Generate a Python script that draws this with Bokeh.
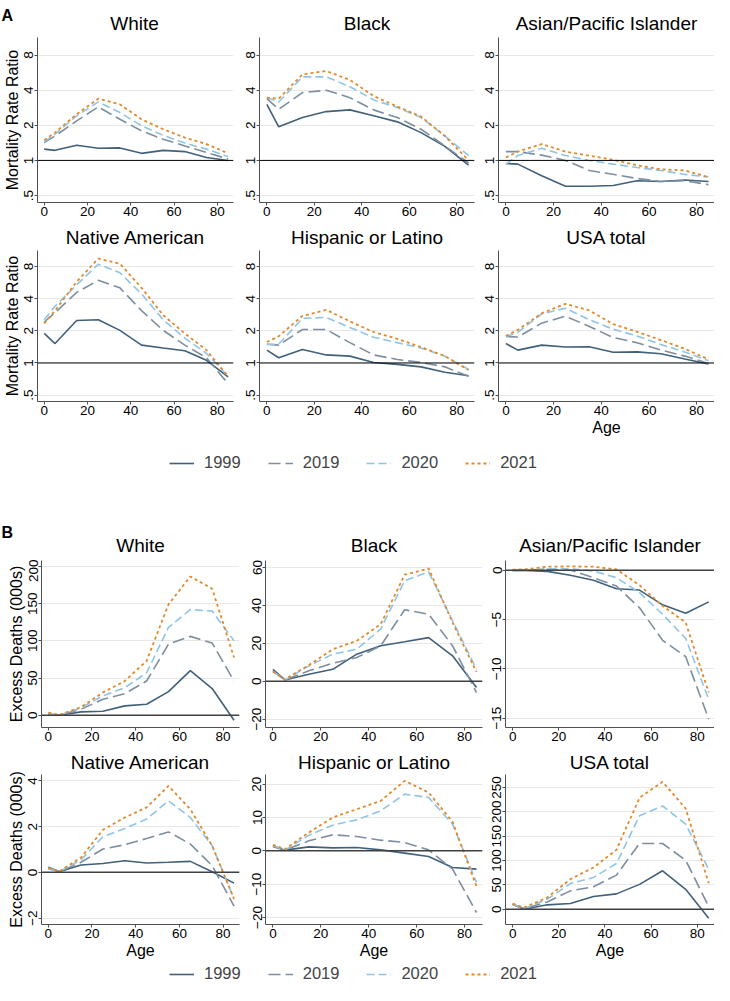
from bokeh.plotting import figure
from bokeh.layouts import column, row
from bokeh.models import (FixedTicker, CustomJSTickFormatter, Range1d, Span,
                          Legend, LegendItem)
from bokeh.embed import file_html
from bokeh.resources import INLINE
from bokeh.core.properties import value

FONT = "Liberation Sans"

ages = [0, 5, 15, 25, 35, 45, 55, 65, 75, 85]
years = ["1999", "2019", "2020", "2021"]
x_ticks = [0, 20, 40, 60, 80]

titles_row1 = ["White", "Black", "Asian/Pacific Islander"]
titles_row2 = ["Native American", "Hispanic or Latino", "USA total"]

# ---------------- Panel A: Mortality Rate Ratio ----------------
a_white_1999 = [1.25, 1.22, 1.35, 1.27, 1.28, 1.15, 1.22, 1.19, 1.06, 1.00]
a_white_2019 = [1.42, 1.62, 2.18, 2.87, 2.25, 1.79, 1.52, 1.33, 1.17, 1.03]
a_white_2020 = [1.44, 1.68, 2.41, 3.17, 2.57, 1.98, 1.64, 1.41, 1.25, 1.08]
a_white_2021 = [1.49, 1.73, 2.49, 3.38, 3.02, 2.25, 1.85, 1.57, 1.38, 1.15]

a_black_1999 = [3.02, 1.94, 2.33, 2.62, 2.71, 2.41, 2.14, 1.73, 1.32, 0.91]
a_black_2019 = [3.38, 2.74, 3.81, 3.99, 3.45, 2.71, 2.33, 1.85, 1.33, 0.95]
a_black_2020 = [3.45, 3.17, 5.20, 5.20, 4.28, 3.30, 2.84, 2.33, 1.62, 1.10]
a_black_2021 = [3.45, 3.38, 5.46, 5.84, 4.89, 3.56, 2.89, 2.37, 1.62, 1.00]

a_asian_1999 = [0.94, 0.93, 0.74, 0.60, 0.60, 0.61, 0.67, 0.66, 0.68, 0.66]
a_asian_2019 = [1.19, 1.19, 1.11, 1.00, 0.82, 0.76, 0.70, 0.66, 0.67, 0.62]
a_asian_2020 = [0.93, 1.10, 1.27, 1.10, 1.00, 0.93, 0.87, 0.82, 0.76, 0.72]
a_asian_2021 = [1.06, 1.19, 1.38, 1.19, 1.10, 1.01, 0.91, 0.84, 0.82, 0.72]

a_native_1999 = [1.89, 1.52, 2.50, 2.54, 2.02, 1.47, 1.38, 1.30, 1.06, 0.74]
a_native_2019 = [2.42, 2.95, 4.58, 5.94, 5.05, 3.09, 2.02, 1.47, 1.12, 0.64]
a_native_2020 = [2.54, 3.40, 5.39, 8.40, 7.00, 4.43, 2.54, 1.71, 1.23, 0.75]
a_native_2021 = [2.35, 3.09, 5.76, 9.50, 8.50, 5.05, 2.80, 1.89, 1.32, 0.75]

a_hisp_1999 = [1.32, 1.12, 1.34, 1.19, 1.16, 1.01, 0.97, 0.92, 0.82, 0.76]
a_hisp_2019 = [1.50, 1.47, 2.06, 2.06, 1.55, 1.19, 1.08, 1.01, 0.92, 0.75]
a_hisp_2020 = [1.50, 1.50, 2.62, 2.67, 2.15, 1.74, 1.55, 1.38, 1.16, 0.87]
a_hisp_2021 = [1.57, 1.78, 2.76, 3.15, 2.45, 1.95, 1.68, 1.41, 1.16, 0.86]

a_usa_1999 = [1.52, 1.32, 1.47, 1.41, 1.42, 1.26, 1.27, 1.22, 1.09, 0.98]
a_usa_2019 = [1.77, 1.75, 2.36, 2.74, 2.20, 1.73, 1.55, 1.32, 1.16, 0.99]
a_usa_2020 = [1.77, 1.93, 2.88, 3.26, 2.54, 2.07, 1.79, 1.49, 1.27, 1.05]
a_usa_2021 = [1.79, 2.04, 2.92, 3.58, 3.10, 2.31, 1.96, 1.64, 1.36, 1.08]

a_ticks = [0.5, 1, 2, 4, 8]

# ---------------- Panel B: Excess Deaths (000s) ----------------
b_white_1999 = [1.3, 0, 4.5, 5.4, 12.6, 14.8, 31.8, 60, 35.9, -6.7]
b_white_2019 = [1.3, 0, 8, 21.5, 29, 46, 95.5, 106, 97, 46]
b_white_2020 = [2, 0, 10, 26, 37, 57, 118, 142, 140, 100]
b_white_2021 = [3.6, 0.5, 11, 30.5, 46, 73, 149, 186.5, 170, 77.6]

b_black_1999 = [6.3, 0.7, 3.7, 6.3, 14.3, 18.7, 20.8, 23, 13.4, -3.3]
b_black_2019 = [5.5, 0.7, 5.5, 9.5, 12.5, 18.7, 37.7, 35.4, 18.7, -6]
b_black_2020 = [5.1, 0.7, 8.1, 14.3, 16.9, 27.5, 53, 57.7, 31.9, 6.3]
b_black_2021 = [5.1, 1, 8.5, 16.9, 21.3, 30.1, 56.2, 59.5, 31, 4.9]

b_asian_1999 = [0, 0, -0.1, -0.5, -1.0, -1.86, -2.0, -3.5, -4.36, -3.2]
b_asian_2019 = [0, 0, 0.1, 0.03, -0.74, -1.6, -3.8, -7.1, -8.75, -15.1]
b_asian_2020 = [0, 0, 0.17, 0.17, -0.07, -0.74, -2.26, -4.46, -6.9, -13.1]
b_asian_2021 = [0.07, 0.1, 0.37, 0.4, 0.37, 0.1, -1.5, -3.6, -5.3, -12.4]

b_native_1999 = [0.22, 0.03, 0.32, 0.39, 0.51, 0.41, 0.44, 0.48, 0.03, -0.47]
b_native_2019 = [0.22, 0.03, 0.44, 1.02, 1.21, 1.48, 1.77, 1.24, 0.29, -1.48]
b_native_2020 = [0.15, 0.03, 0.55, 1.56, 1.92, 2.33, 3.13, 2.4, 1.16, -1.16]
b_native_2021 = [0.19, 0.04, 0.65, 1.86, 2.4, 2.84, 3.78, 2.76, 1.16, -1.16]

b_hisp_1999 = [1.3, 0.2, 1.2, 0.9, 1.0, 0.3, -0.7, -1.7, -5.0, -5.5]
b_hisp_2019 = [1.5, 0.2, 3.0, 4.8, 4.3, 3.2, 2.5, 0.3, -5.5, -18.5]
b_hisp_2020 = [1.5, 0.2, 4.7, 7.7, 9.3, 12, 17, 16, 8, -9.5]
b_hisp_2021 = [1.8, 0.5, 5.5, 10, 12.5, 15, 21, 17.5, 8.7, -10.7]

b_usa_1999 = [10, 0, 9, 11.6, 26, 31.5, 51, 79, 41, -18.5]
b_usa_2019 = [10, 1.4, 15, 37.7, 46, 70, 135, 135, 100.7, 5.5]
b_usa_2020 = [10, 1.4, 20.5, 52.7, 65, 94, 192, 212, 174.7, 82]
b_usa_2021 = [11.6, 3.4, 24, 61.6, 85.6, 122, 229, 261.6, 206.8, 53.4]

b_white_ticks = [0, 50, 100, 150, 200]
b_black_ticks = [-20, 0, 20, 40, 60]
b_asian_ticks = [-15, -10, -5, 0]
b_native_ticks = [-2, 0, 2, 4]
b_hisp_ticks = [-20, -10, 0, 10, 20]
b_usa_ticks = [0, 50, 100, 150, 200, 250]

# ---------------- styles ----------------
COLORS = ["#41607a", "#7d8ea0", "#8fc4e6", "#e2892c"]
DASHES = ["solid", "12 5", "8 4", "3 3"]
WIDTHS = [1.6, 1.6, 1.6, 1.8]
TITLE_SIZE = "19px"

FMT_A = "return tick == 0.5 ? '.5' : tick.toFixed(0);"
FMT_B = "return tick < 0 ? '\u2212' + Math.abs(tick) : String(tick);"


def panel(series, w, h, borders, yr, ticks, title=None, log=False, ylabel=None,
          xlabel=None, ref=0.0, ref_color="black", ref_width=1.0, standoff=5):
    bl, br, bt, bb = borders
    p = figure(width=w, height=h, output_backend="svg", toolbar_location=None,
               x_range=Range1d(-3.1, 87.5), y_range=Range1d(*yr),
               y_axis_type="log" if log else "linear",
               min_border_left=bl, min_border_right=br,
               min_border_top=bt, min_border_bottom=bb)
    p.outline_line_color = None
    p.background_fill_color = "white"
    p.border_fill_color = "white"
    if title:
        p.title.text = title
        p.title.align = "center"
        p.title.text_font = FONT
        p.title.text_font_size = TITLE_SIZE
        p.title.text_font_style = "normal"
        p.title.text_color = "black"
        p.title.standoff = standoff
    else:
        p.title.visible = False

    for ax in (p.xaxis[0], p.yaxis[0]):
        ax.axis_line_color = "#505050"
        ax.axis_line_width = 1
        ax.major_tick_line_color = "#505050"
        ax.major_tick_out = 3
        ax.major_tick_in = 0
        ax.minor_tick_line_color = None
        ax.major_label_text_font = FONT
        ax.major_label_text_font_size = "13.5px"
        ax.major_label_text_color = "black"
        ax.major_label_standoff = 1
        ax.axis_label_text_font = FONT
        ax.axis_label_text_font_size = "16px"
        ax.axis_label_text_font_style = "normal"
        ax.axis_label_text_color = "black"
        ax.axis_label_standoff = 1

    p.xaxis.ticker = FixedTicker(ticks=x_ticks)
    p.yaxis.ticker = FixedTicker(ticks=ticks)
    p.yaxis.formatter = CustomJSTickFormatter(code=FMT_A if log else FMT_B)
    p.yaxis.major_label_orientation = "vertical"
    if xlabel:
        p.xaxis.axis_label = xlabel
    if ylabel:
        p.yaxis.axis_label = ylabel
    p.xgrid.visible = False
    p.ygrid.grid_line_color = "#e8e8e8"
    p.ygrid.grid_line_width = 1

    p.add_layout(Span(location=ref, dimension="width", line_color=ref_color,
                      line_width=ref_width))
    for vals, c, d, lw in zip(series, COLORS, DASHES, WIDTHS):
        p.line(ages, vals, line_color=c, line_dash=d, line_width=lw)
    return p


def strip(w, h):
    p = figure(width=w, height=h, output_backend="svg", toolbar_location=None,
               x_range=Range1d(0, w), y_range=Range1d(0, h), min_border=0)
    p.title.visible = False
    p.axis.visible = False
    p.grid.visible = False
    p.outline_line_color = None
    return p


def add_letter(p, letter, y):
    p.text(x=[1], y=[y], text=[letter], text_font=value(FONT),
           text_font_size="16px", text_font_style="bold",
           text_baseline="alphabetic", text_align="left", text_color="black")


def add_titles(p, centers, y):
    p.text(x=centers, y=[y] * len(centers), text=titles_row1, text_font=value(FONT),
           text_font_size=TITLE_SIZE, text_baseline="middle",
           text_align="center", text_color="black")


def add_legend(p, loc):
    items = []
    for lab, c, d, lw in zip(years, COLORS, DASHES, WIDTHS):
        # legend-only renderers: their points lie outside the visible range
        r = p.line([-50, -40], [-50, -40], line_color=c, line_dash=d, line_width=lw)
        items.append(LegendItem(label=lab, renderers=[r]))
    lg = Legend(items=items, orientation="horizontal", location=loc,
                glyph_width=25, glyph_height=18, label_height=18,
                label_standoff=10, spacing=27, padding=0, margin=0,
                border_line_color=None, background_fill_alpha=0,
                label_text_font=FONT, label_text_font_size="16.5px")
    p.add_layout(lg)


# column geometry (px): figure widths and left/right borders
W_A = [237, 242, 235]
B_A = [(35, 4), (22, 5), (19, 0)]
W_B = [242, 245, 227]
B_B = [(41, 3), (23, 5), (18, 0)]


def frame_centers(widths, borders):
    out, x0 = [], 0
    for w, (bl, br) in zip(widths, borders):
        out.append(x0 + bl + (w - bl - br) / 2)
        x0 += w
    return out


YLAB_A = "Mortality Rate Ratio"
YLAB_B = "Excess Deaths (000s)"
yr_a = (0.436, 11.3)

# header strip: "A" and first-row titles of panel A
sA = strip(714, 36)
add_letter(sA, "A", 21)
add_titles(sA, frame_centers(W_A, B_A), 13.5)

r1a = row(
    panel([a_white_1999, a_white_2019, a_white_2020, a_white_2021],
          W_A[0], 185, (*B_A[0], 1, 19), yr_a, a_ticks, log=True, ylabel=YLAB_A, ref=1),
    panel([a_black_1999, a_black_2019, a_black_2020, a_black_2021],
          W_A[1], 185, (*B_A[1], 1, 19), yr_a, a_ticks, log=True, ref=1),
    panel([a_asian_1999, a_asian_2019, a_asian_2020, a_asian_2021],
          W_A[2], 185, (*B_A[2], 1, 19), yr_a, a_ticks, log=True, ref=1),
)
r2a = row(
    panel([a_native_1999, a_native_2019, a_native_2020, a_native_2021],
          W_A[0], 218, (*B_A[0], 29, 23), yr_a, a_ticks, title=titles_row2[0],
          log=True, ylabel=YLAB_A, ref=1, standoff=6),
    panel([a_hisp_1999, a_hisp_2019, a_hisp_2020, a_hisp_2021],
          W_A[1], 218, (*B_A[1], 29, 23), yr_a, a_ticks, title=titles_row2[1],
          log=True, ref=1, standoff=6),
    panel([a_usa_1999, a_usa_2019, a_usa_2020, a_usa_2021],
          W_A[2], 218, (*B_A[2], 29, 38), yr_a, a_ticks, title=titles_row2[2],
          log=True, xlabel="Age", ref=1, standoff=6),
)

# middle strip: legend of panel A, "B" and first-row titles of panel B
mid = strip(714, 120)
add_legend(mid, (169, 87))
add_letter(mid, "B", 27)
add_titles(mid, frame_centers(W_B, B_B), 14)

ZC = "#404040"
r1b = row(
    panel([b_white_1999, b_white_2019, b_white_2020, b_white_2021],
          W_B[0], 188, (*B_B[0], 1, 20), (-16.5, 208), b_white_ticks, ylabel=YLAB_B,
          ref_color=ZC, ref_width=1.5),
    panel([b_black_1999, b_black_2019, b_black_2020, b_black_2021],
          W_B[1], 188, (*B_B[1], 1, 20), (-24.4, 63.7), b_black_ticks,
          ref_color=ZC, ref_width=1.5),
    panel([b_asian_1999, b_asian_2019, b_asian_2020, b_asian_2021],
          W_B[2], 188, (*B_B[2], 1, 20), (-15.95, 1.0), b_asian_ticks,
          ref_color=ZC, ref_width=1.5),
)
r2b = row(
    panel([b_native_1999, b_native_2019, b_native_2020, b_native_2021],
          W_B[0], 215, (*B_B[0], 27, 38), (-2.28, 4.28), b_native_ticks,
          title=titles_row2[0], ylabel=YLAB_B, xlabel="Age",
          ref_color=ZC, ref_width=1.5, standoff=3),
    panel([b_hisp_1999, b_hisp_2019, b_hisp_2020, b_hisp_2021],
          W_B[1], 215, (*B_B[1], 27, 38), (-22.1, 22.9), b_hisp_ticks,
          title=titles_row2[1], xlabel="Age", ref_color=ZC, ref_width=1.5, standoff=3),
    panel([b_usa_1999, b_usa_2019, b_usa_2020, b_usa_2021],
          W_B[2], 215, (*B_B[2], 27, 38), (-31.4, 276.7), b_usa_ticks,
          title=titles_row2[2], xlabel="Age", ref_color=ZC, ref_width=1.5, standoff=3),
)

# bottom strip: legend of panel B
bot = strip(714, 23)
add_legend(bot, (169, 2))

layout = column(sA, r1a, r2a, mid, r1b, r2b, bot, spacing=0)
open("out.html", "w").write(file_html(layout, INLINE))
